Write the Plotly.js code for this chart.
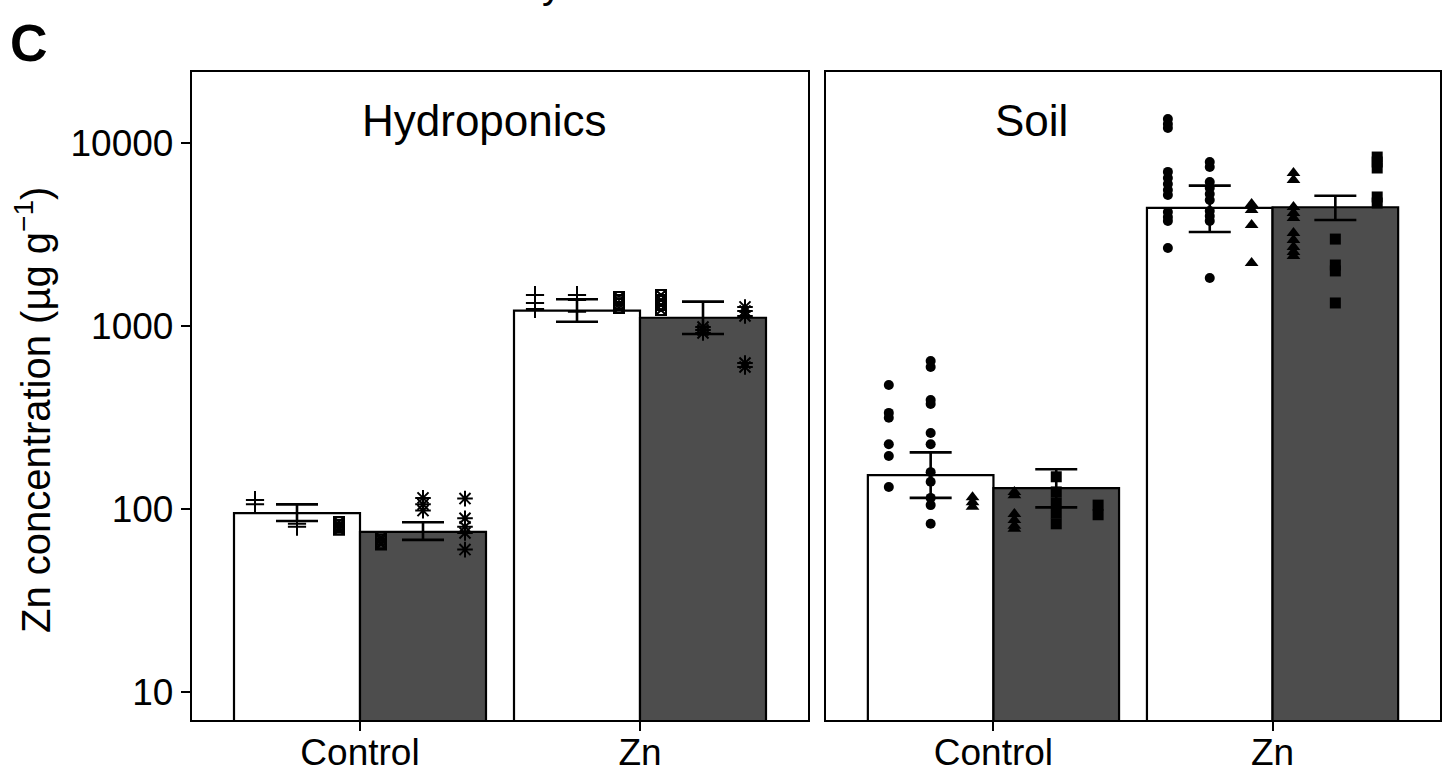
<!DOCTYPE html>
<html>
<head>
<meta charset="utf-8">
<script src="https://cdn.plot.ly/plotly-3.0.1.min.js"></script>
<style>html,body{margin:0;padding:0;background:#fff;}#chart{width:1446px;height:774px;}</style>
</head>
<body>
<div id="chart"></div>
<script>
// ---------------- data ----------------
const categories = ["Control", "Zn"];
const panels = ["Hydroponics", "Soil"];

// bar heights (means)
const hydroMeanWhite = [95, 1213];
const hydroMeanDark  = [75, 1109];
const soilMeanWhite  = [153, 4416];
const soilMeanDark   = [130, 4455];

// error bar limits (upper / lower)
const hydroErrHiWhite = [106, 1400];
const hydroErrLoWhite = [86, 1054];
const hydroErrHiDark  = [84.6, 1358];
const hydroErrLoDark  = [67.8, 904];
const soilErrHiWhite  = [204, 5850];
const soilErrLoWhite  = [115, 3266];
const soilErrHiDark   = [165, 5150];
const soilErrLoDark   = [102, 3795];

// individual points, six dodged groups per category
const hydroG1Control = [112, 106];
const hydroG1Zn      = [1476, 1337, 1239];
const hydroG2Control = [86, 83, 80];
const hydroG2Zn      = [1476, 1387, 1195];
const hydroG3Control = [85, 82, 79, 77];
const hydroG3Zn      = [1439, 1387, 1318, 1253];
const hydroG4Control = [70, 68, 65, 64];
const hydroG4Zn      = [1476, 1387, 1303, 1222];
const hydroG5Control = [115, 106, 98];
const hydroG5Zn      = [988, 951, 916];
const hydroG6Control = [114, 89, 80, 74, 60];
const hydroG6Zn      = [1271, 1208, 1135, 628, 597];

const soilG1Control = [476, 335, 315, 226, 195, 132];
const soilG1Zn      = [13530, 12700, 12070, 6950, 6440, 5970, 5530, 5200, 4198, 3942, 3752, 2667];
const soilG2Control = [644, 597, 394, 375, 260, 226, 159, 141, 115, 105, 83];
const soilG2Zn      = [7875, 7394, 6120, 5680, 5260, 4883, 4248, 3990, 3752, 1829];
const soilG3Control = [116, 109, 103];
const soilG3Zn      = [4645, 4305, 3565, 2208];
const soilG4Control = [124, 119, 94, 87, 81, 78];
const soilG4Zn      = [6853, 6285, 4468, 4141, 3890, 3222, 2950, 2704, 2537, 2413];
const soilG5Control = [150, 124, 108, 95, 83];
const soilG5Zn      = [2985, 2154, 1999, 1336];
const soilG6Control = [105, 93];
const soilG6Zn      = [8380, 7875, 7300, 5070, 4700];

const yTickVals = [10, 100, 1000, 10000];
const yTickText = ["10", "100", "1000", "10000"];

// ---------------- styling / layout constants ----------------
const FONT = "Liberation Sans, Arial, Helvetica, sans-serif";
const DODGE = [-0.375, -0.225, -0.075, 0.075, 0.225, 0.375];
const BAR_OFF = [-0.225, 0.225];
const BAR_W = 0.45;
const DARK = "#4d4d4d";

const hydroGroups = [
  [hydroG1Control, hydroG1Zn], [hydroG2Control, hydroG2Zn], [hydroG3Control, hydroG3Zn],
  [hydroG4Control, hydroG4Zn], [hydroG5Control, hydroG5Zn], [hydroG6Control, hydroG6Zn]
];
const soilGroups = [
  [soilG1Control, soilG1Zn], [soilG2Control, soilG2Zn], [soilG3Control, soilG3Zn],
  [soilG4Control, soilG4Zn], [soilG5Control, soilG5Zn], [soilG6Control, soilG6Zn]
];
const hydroSymbols = [
  {symbol: "cross-thin-open", size: 13}, {symbol: "cross-thin-open", size: 13},
  {symbol: "square-x-open", size: 10}, {symbol: "square-x-open", size: 10},
  {symbol: "asterisk-open", size: 13}, {symbol: "asterisk-open", size: 13}
];
const soilSymbols = [
  {symbol: "circle", size: 10}, {symbol: "circle", size: 10},
  {symbol: "triangle-up", size: 12}, {symbol: "triangle-up", size: 12},
  {symbol: "square", size: 11}, {symbol: "square", size: 11}
];

const traces = [];

function addPanel(xa, ya, meanW, meanD, hiW, loW, hiD, loD, groups, symbols) {
  const catPos = categories.map((c, i) => i + 1);
  // bars
  [[meanW, "#ffffff", 0], [meanD, DARK, 1]].forEach(([m, col, k]) => {
    traces.push({
      type: "bar", xaxis: xa, yaxis: ya,
      x: catPos.map(p => p + BAR_OFF[k]), y: m, width: BAR_W,
      marker: {color: col, line: {color: "#000", width: 2.2}},
      hoverinfo: "skip"
    });
  });
  // points
  groups.forEach((g, gi) => {
    const xs = [], ys = [];
    g.forEach((vals, ci) => vals.forEach(v => { xs.push(catPos[ci] + DODGE[gi]); ys.push(v); }));
    const s = symbols[gi];
    const open = s.symbol.endsWith("-open");
    traces.push({
      type: "scatter", mode: "markers", xaxis: xa, yaxis: ya, x: xs, y: ys,
      marker: {symbol: s.symbol, size: s.size, color: "#000",
               line: {color: "#000", width: open ? 2 : 0}},
      hoverinfo: "skip"
    });
  });
  // error bars
  [[meanW, hiW, loW, 0], [meanD, hiD, loD, 1]].forEach(([m, hi, lo, k]) => {
    traces.push({
      type: "scatter", mode: "markers", xaxis: xa, yaxis: ya,
      x: catPos.map(p => p + BAR_OFF[k]), y: m,
      marker: {size: 1, color: "rgba(0,0,0,0)"},
      error_y: {type: "data", symmetric: false,
                array: hi.map((h, i) => h - m[i]), arrayminus: lo.map((l, i) => m[i] - l),
                color: "#000", thickness: 2.6, width: 21},
      hoverinfo: "skip"
    });
  });
}

addPanel("x", "y", hydroMeanWhite, hydroMeanDark, hydroErrHiWhite, hydroErrLoWhite,
         hydroErrHiDark, hydroErrLoDark, hydroGroups, hydroSymbols);
addPanel("x2", "y2", soilMeanWhite, soilMeanDark, soilErrHiWhite, soilErrLoWhite,
         soilErrHiDark, soilErrLoDark, soilGroups, soilSymbols);

const L = 192, R = 6, T = 72, B = 54, WIDTH = 1446, HEIGHT = 774;
const PW = WIDTH - L - R, PH = HEIGHT - T - B;
const px2x = p => (p - L) / PW;
const px2y = p => (HEIGHT - B - p) / PH;

const xCommon = {
  range: [0.4, 2.6], tickvals: [1, 2], ticktext: categories,
  ticks: "outside", ticklen: 9, tickwidth: 2, tickcolor: "#000",
  ticklabelstandoff: -11,
  showline: true, linewidth: 2.2, linecolor: "#000", mirror: true,
  showgrid: false, zeroline: false, fixedrange: true,
  tickfont: {family: FONT, size: 37, color: "#000"}
};
const yRange = [Math.log10(7.03), Math.log10(24430)];

const layout = {
  width: WIDTH, height: HEIGHT,
  margin: {l: L, r: R, t: T, b: B},
  paper_bgcolor: "#fff", plot_bgcolor: "#fff",
  showlegend: false, barmode: "overlay",
  xaxis: Object.assign({}, xCommon, {domain: [0, px2x(808)], anchor: "y"}),
  xaxis2: Object.assign({}, xCommon, {domain: [px2x(826), 1], anchor: "y2"}),
  yaxis: {
    type: "log", range: yRange, tickvals: yTickVals, ticktext: yTickText,
    ticks: "outside", ticklen: 9, tickwidth: 2, tickcolor: "#000",
    showline: true, linewidth: 2.2, linecolor: "#000", mirror: true,
    showgrid: false, zeroline: false, anchor: "x", fixedrange: true,
    tickfont: {family: FONT, size: 37, color: "#000"}
  },
  yaxis2: {
    type: "log", range: yRange, matches: "y", anchor: "x2",
    showticklabels: false, ticks: "",
    showline: true, linewidth: 2.2, linecolor: "#000", mirror: true,
    showgrid: false, zeroline: false, fixedrange: true
  },
  annotations: [
    {text: "<b>C</b>", xref: "paper", yref: "paper", x: px2x(8), y: px2y(43),
     xanchor: "left", yanchor: "middle", showarrow: false,
     font: {family: FONT, size: 52, color: "#000"}},
    {text: "y", xref: "paper", yref: "paper", x: px2x(552), y: px2y(8),
     xanchor: "center", yanchor: "bottom", showarrow: false,
     font: {family: FONT, size: 40, color: "#000"}},
    {text: panels[0], xref: "x", yref: "paper", x: 1, y: px2y(120),
     xanchor: "left", yanchor: "middle", showarrow: false,
     font: {family: FONT, size: 44, color: "#000"}},
    {text: panels[1], xref: "x2", yref: "paper", x: 1, y: px2y(120),
     xanchor: "left", yanchor: "middle", showarrow: false,
     font: {family: FONT, size: 44, color: "#000"}},
    {text: "Zn concentration (µg g<sup>−1</sup>)", xref: "paper", yref: "paper",
     x: px2x(33), y: px2y(410), xanchor: "center", yanchor: "middle", textangle: -90,
     showarrow: false, font: {family: FONT, size: 40, color: "#000"}}
  ]
};

Plotly.newPlot("chart", traces, layout, {displayModeBar: false, staticPlot: true});
</script>
</body>
</html>
